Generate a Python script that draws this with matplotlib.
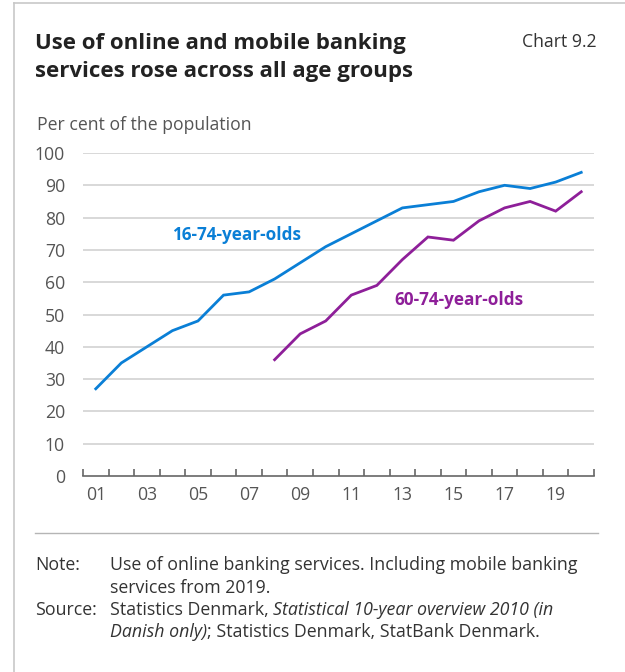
import matplotlib as mpl
import matplotlib.pyplot as plt
from matplotlib.lines import Line2D

mpl.rcParams['font.family'] = ['Open Sans', 'DejaVu Sans']

W, H = 625, 672

years = list(range(2001, 2021))
all_ages = [27, 35, 40, 45, 48, 56, 57, 61, 66, 71,
            75, 79, 83, 84, 85, 88, 90, 89, 91, 94]
years_old = list(range(2008, 2021))
age_60_74 = [36, 44, 48, 56, 59, 67, 74, 73, 79, 83, 85, 82, 88]

x_labels = ['01', '03', '05', '07', '09', '11', '13', '15', '17', '19']
y_ticks = [0, 10, 20, 30, 40, 50, 60, 70, 80, 90, 100]

BLUE = '#0a7fd6'
PURPLE = '#8e1f99'
GREY = '#555555'


def px(x, y):
    return x / W, 1 - y / H


fig = plt.figure(figsize=(W / 100, H / 100), dpi=100)

# frame around the chart
fig.add_artist(Line2D([14 / W, 14 / W], [0, 1 - 3 / H], color='#c8c8c8', lw=1.2))
fig.add_artist(Line2D([14 / W, 1], [1 - 3 / H, 1 - 3 / H], color='#c8c8c8', lw=1.2))

# titles
fig.text(*px(35, 44), 'Use of online and mobile banking', fontsize=16,
         fontweight='bold', color='#222222', va='center')
fig.text(*px(35, 72), 'services rose across all age groups', fontsize=16,
         fontweight='bold', color='#222222', va='center')
fig.text(*px(597, 42), 'Chart 9.2', fontsize=12.7, color='#333333',
         ha='right', va='center')
fig.text(*px(37, 125), 'Per cent of the population', fontsize=12.7,
         color=GREY, va='center')

left, right, top, bottom = 83, 594, 153, 476
ax = fig.add_axes([left / W, 1 - bottom / H, (right - left) / W, (bottom - top) / H])

ax.plot(years, all_ages, color=BLUE, lw=2.0, solid_joinstyle='miter')
ax.plot(years_old, age_60_74, color=PURPLE, lw=2.0, solid_joinstyle='miter')

ax.text(2006.5, 74.5, '16-74-year-olds', color=BLUE, fontsize=12.3,
        fontweight='bold', ha='center', va='center')
ax.text(2015.2, 54.5, '60-74-year-olds', color=PURPLE, fontsize=12.3,
        fontweight='bold', ha='center', va='center')

ax.set_xlim(2000.5, 2020.5)
ax.set_ylim(0, 100)

ax.set_yticks(y_ticks)
ax.set_yticklabels([str(v) for v in y_ticks])
ax.tick_params(axis='y', length=0, pad=13, labelsize=12.7, labelcolor=GREY)

ax.set_xticks([y + 0.5 for y in range(2000, 2021)])
ax.set_xticklabels([])
ax.set_xticks(list(range(2001, 2020, 2)), minor=True)
ax.set_xticklabels(x_labels, minor=True)
ax.tick_params(axis='x', which='major', direction='in', length=5,
               width=1.2, color='#666666')
ax.tick_params(axis='x', which='minor', length=0, pad=7, labelsize=12.7,
               labelcolor=GREY)

for v in y_ticks[1:]:
    ax.axhline(v, color='#d2d2d2', lw=1.2, zorder=0)

for s in ['top', 'right', 'left']:
    ax.spines[s].set_visible(False)
ax.spines['bottom'].set_color('#666666')
ax.spines['bottom'].set_linewidth(1.2)
ax.set_facecolor('none')

# separator
fig.add_artist(Line2D([35 / W, 598 / W], [1 - 533 / H, 1 - 533 / H],
                      color='#b5b5b5', lw=1.0))

# notes
fs = 12.8
col = '#333333'
fig.text(*px(35, 565), 'Note:', fontsize=fs, color=col, va='center')
fig.text(*px(110, 565), 'Use of online banking services. Including mobile banking',
         fontsize=fs, color=col, va='center')
fig.text(*px(110, 588), 'services from 2019.', fontsize=fs, color=col, va='center')
fig.text(*px(35, 610), 'Source:', fontsize=fs, color=col, va='center')

renderer = fig.canvas.get_renderer()
t1 = fig.text(*px(110, 610), 'Statistics Denmark, ', fontsize=fs, color=col,
              va='center')
w1 = t1.get_window_extent(renderer).width
fig.text(*px(110 + w1, 610), 'Statistical 10-year overview 2010 (in',
         fontsize=fs, color=col, va='center', style='italic')
t2 = fig.text(*px(110, 632), 'Danish only)', fontsize=fs, color=col,
              va='center', style='italic')
w2 = t2.get_window_extent(renderer).width
fig.text(*px(110 + w2, 632), '; Statistics Denmark, StatBank Denmark.',
         fontsize=fs, color=col, va='center')

fig.savefig('out.png', dpi=100)
